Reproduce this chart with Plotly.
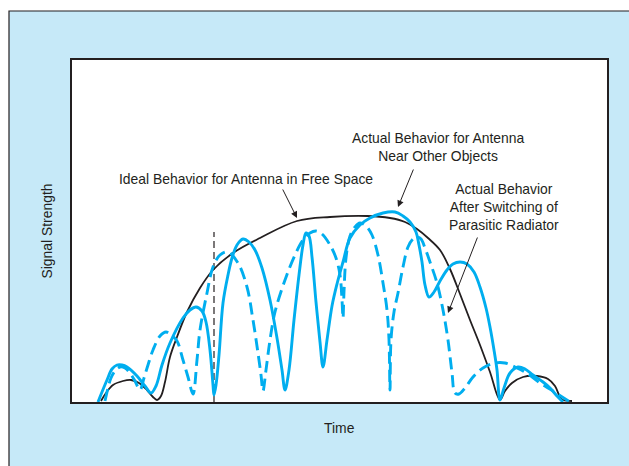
import plotly.graph_objects as go

# ---- values (time: horizontal units, signal: height above baseline) ----
ideal_time = [101, 106, 113, 123, 131, 139, 147, 153, 157, 161, 165, 170, 177, 187, 200, 213,
              233, 260, 297, 330, 367, 390, 405, 417, 428, 440, 450, 460, 470, 480, 490, 500,
              505, 512, 523, 537, 548, 555, 560, 563, 572]
ideal_signal = [1, 9, 17, 21, 22, 19, 12, 5, 2, 6, 20, 45, 65, 90, 114, 132,
                149, 164, 181, 185, 186, 184, 180, 173, 164, 152, 133, 108, 82, 57, 30, 2,
                11, 19, 25, 26, 23, 16, 5, 2, 1]

near_time = [98, 102, 107, 112, 117, 122, 127, 137, 145, 151, 156, 162, 170, 183, 190, 196,
             202, 206, 210, 213, 214, 216, 219, 223, 228, 232, 237, 243, 249, 255, 262, 270,
             277, 282, 285, 289, 294, 299, 303, 306, 309, 312, 316, 320, 323, 327, 332, 337,
             343, 350, 360, 370, 383, 395, 403, 410, 416, 419, 422, 425, 429, 434, 440, 447,
             453, 460, 467, 474, 480, 486, 490, 494, 497, 500, 504, 510, 518, 525, 533, 543,
             550, 557, 563]
near_signal = [0, 10, 22, 33, 37, 37, 35, 26, 16, 9, 16, 37, 59, 84, 92, 95,
               91, 80, 52, 17, 7, 17, 47, 99, 127, 144, 157, 163, 160, 152, 134, 102,
               64, 32, 12, 32, 82, 127, 157, 169, 166, 145, 100, 60, 35, 62, 96, 118,
               140, 164, 177, 184, 189, 190, 186, 180, 170, 157, 140, 117, 105, 110, 121, 132,
               138, 140, 138, 130, 115, 94, 75, 52, 32, 2, 14, 29, 35, 33, 27, 20,
               14, 6, 0]

switch_time = [105, 108, 111, 115, 120, 125, 130, 135, 140, 144, 148, 153, 160, 166, 171, 177,
               183, 188, 193, 197, 200, 207, 213, 220, 228, 238, 247, 253, 258, 261, 263, 266,
               270, 275, 285, 295, 303, 310, 316, 322, 330, 336, 340, 342, 343, 344, 346, 350,
               355, 360, 366, 372, 378, 383, 387, 389, 390, 391, 394, 398, 403, 408, 413, 417,
               421, 425, 430, 437, 443, 448, 452, 455, 459, 465, 473, 483, 495, 505, 515, 525,
               540, 553, 570]
switch_signal = [1, 14, 24, 31, 35, 34, 29, 21, 12, 24, 37, 52, 66, 70, 67, 61,
                 42, 25, 8, 42, 72, 109, 135, 147, 150, 139, 115, 82, 49, 27, 11, 32,
                 62, 90, 122, 147, 162, 169, 171, 168, 157, 144, 127, 102, 84, 110, 144, 166,
                 175, 179, 176, 167, 147, 119, 92, 62, 12, 62, 90, 109, 135, 155, 163, 165,
                 163, 154, 140, 119, 92, 62, 29, 9, 8, 14, 25, 34, 39, 39, 35, 30,
                 19, 11, 0]

switch_instant = [214, 214]
switch_marker = [0, 170]

time_range = [72, 607]
signal_range = [0, 342]

labels = {
    "ideal": "Ideal Behavior for Antenna in Free Space",
    "near": "Actual Behavior for Antenna<br>Near Other Objects",
    "switch": "Actual Behavior<br>After Switching of<br>Parasitic Radiator",
}
label_pos = {"ideal": (246, 223.5), "near": (438, 255.5), "switch": (503.5, 195.3)}
arrows = [  # (tail time, tail signal, head time, head signal)
    (282, 214, 297, 184),
    (414, 234, 398, 195),
    (478, 166, 448, 89),
]

CYAN = "#00aeef"
INK = "#231f20"
BG = "#c6e9f8"
FONT = "Liberation Sans, Arial, sans-serif"
FS = 13.9

fig = go.Figure()
fig.add_trace(go.Scatter(x=ideal_time, y=ideal_signal, mode="lines",
                         line=dict(color=INK, width=1.8, shape="spline"), hoverinfo="skip"))
fig.add_trace(go.Scatter(x=switch_instant, y=switch_marker, mode="lines",
                         line=dict(color=INK, width=1.2, dash="7px,4px"), hoverinfo="skip"))
fig.add_trace(go.Scatter(x=switch_time, y=switch_signal, mode="lines",
                         line=dict(color=CYAN, width=2.9, dash="12px,6px", shape="spline"),
                         hoverinfo="skip"))
fig.add_trace(go.Scatter(x=near_time, y=near_signal, mode="lines",
                         line=dict(color=CYAN, width=2.9, shape="spline"), hoverinfo="skip"))

W, H = 629, 466
ml, mr, mt, mb = 72, 22, 60, 64
pw, ph = W - ml - mr, H - mt - mb


def px_x(p):
    return (p - ml) / pw


def px_y(p):
    return (H - mb - p) / ph


shapes = [
    dict(type="rect", xref="paper", yref="paper", x0=px_x(9), x1=px_x(W + 20),
         y0=px_y(H + 20), y1=px_y(11), fillcolor=BG, line=dict(color=INK, width=1.2),
         layer="below"),
    dict(type="rect", xref="paper", yref="paper", x0=0, x1=1, y0=0, y1=1,
         fillcolor="white", line=dict(width=0), layer="below"),
]

annotations = []
for key, text in labels.items():
    x, y = label_pos[key]
    annotations.append(dict(x=x, y=y, xref="x", yref="y", text=text, showarrow=False,
                            font=dict(family=FONT, size=FS, color=INK),
                            xanchor="center", yanchor="middle", align="center"))
for tx, ty, hx, hy in arrows:
    annotations.append(dict(x=hx, y=hy, ax=tx, ay=ty, xref="x", yref="y", axref="x", ayref="y",
                            text="", showarrow=True, arrowhead=2, arrowsize=1.3,
                            arrowwidth=1, arrowcolor=INK, standoff=0, startstandoff=0))
annotations.append(dict(x=px_x(339), y=px_y(428), xref="paper", yref="paper", text="Time",
                        showarrow=False, font=dict(family=FONT, size=FS, color=INK),
                        xanchor="center", yanchor="middle"))
annotations.append(dict(x=px_x(46.5), y=px_y(231), xref="paper", yref="paper",
                        text="Signal Strength", textangle=-90, showarrow=False,
                        font=dict(family=FONT, size=FS, color=INK),
                        xanchor="center", yanchor="middle"))

axis_common = dict(showticklabels=False, showgrid=False, zeroline=False, ticks="",
                   showline=True, mirror=True, linecolor=INK, linewidth=1.5, fixedrange=True)
fig.update_layout(
    width=W, height=H, margin=dict(l=ml, r=mr, t=mt, b=mb, autoexpand=False),
    paper_bgcolor="white", plot_bgcolor="white", showlegend=False,
    xaxis=dict(range=time_range, **axis_common),
    yaxis=dict(range=signal_range, **axis_common),
    shapes=shapes, annotations=annotations,
)
fig.write_html(
    "out.html",
    config={"displayModeBar": False},
    post_script="document.body.style.margin='0';document.body.style.overflow='hidden';",
)
